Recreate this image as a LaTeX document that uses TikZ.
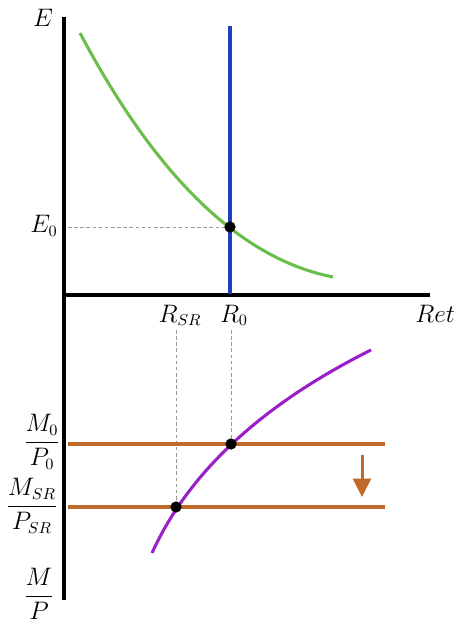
\documentclass[tikz,border=0pt]{standalone}
\usepackage{amsmath,amssymb}
\usepackage{xcolor}
\usepackage{tikz}
\usetikzlibrary{arrows.meta}

\definecolor{curvegreen}{RGB}{106,190,75}
\definecolor{lineblue}{RGB}{31,63,190}
\definecolor{curvepurple}{RGB}{155,31,200}
\definecolor{lineorange}{RGB}{192,106,42}

\begin{document}
\begin{tikzpicture}[>=Latex, x=0.02cm, y=-0.02cm,
    axis/.style={line width=1.85pt, black},
    graph/.style={line width=1.75pt},
    guide/.style={gray!80, line width=0.55pt, dash pattern=on 2pt off 1.5pt},
    lbl/.style={font=\fontsize{13.5}{16}\selectfont, inner sep=0pt}]
  \useasboundingbox (0,0) rectangle (457,624);
  % axes
  \coordinate (yTop) at (64,17);
  \coordinate (yBot) at (64,600);
  \coordinate (xLeft) at (64,295);
  \coordinate (xRight) at (430,295);
  \draw[axis] (yTop) -- (yBot);
  \draw[axis] (xLeft) -- (xRight);
  % upper panel
  \coordinate (g0) at (80,33);
  \coordinate (g1) at (333,277);
  \coordinate (b0) at (230,26);
  \coordinate (b1) at (230,294);
  \coordinate (eq0) at (230,227);
  \coordinate (e0) at (68,227);
  \draw[graph, curvegreen] (g0) .. controls (156.7,177.7) and (241,259) .. (g1);
  \draw[graph, lineblue] (b0) -- (b1);
  \draw[guide] (e0) -- (eq0);
  \fill (eq0) circle (3.2pt);
  % lower panel
  \coordinate (p0) at (152,553);
  \coordinate (p1) at (371,350);
  \coordinate (m0L) at (68,444);
  \coordinate (m0R) at (385,444);
  \coordinate (m1L) at (68,507);
  \coordinate (m1R) at (385,507);
  \coordinate (eqA) at (231,444);
  \coordinate (eqB) at (176,507);
  \coordinate (rA) at (231,330);
  \coordinate (rB) at (176,330);
  \coordinate (arT) at (362,455);
  \coordinate (arB) at (362,497);
  \draw[guide] (rA) -- (eqA);
  \draw[guide] (rB) -- (eqB);
  \draw[graph, lineorange] (m0L) -- (m0R);
  \draw[graph, lineorange] (m1L) -- (m1R);
  \draw[graph, curvepurple] (p0) .. controls (188.7,472.3) and (261.7,404.7) .. (p1);
  \draw[lineorange, line width=1.7pt, -{Triangle[width=0.36cm, length=0.37cm]}] (arT) -- (arB);
  \fill (eqA) circle (3.2pt);
  \fill (eqB) circle (3.2pt);
  % labels
  \node[lbl, anchor=base] (lblE) at (43,27) {$E$};
  \node[lbl, anchor=base] (lblEz) at (44,233) {$E_0$};
  \node[lbl, anchor=base] (lblRsr) at (180,322) {$R_{SR}$};
  \node[lbl, anchor=base] (lblRz) at (234,322) {$R_0$};
  \node[lbl, anchor=base] (lblRet) at (435,322) {$Ret$};
  \node[lbl] (lblMz) at (42,442) {$\dfrac{M_0}{P_0}$};
  \node[lbl] (lblMsr) at (32,506) {$\dfrac{M_{SR}}{P_{SR}}$};
  \node[lbl] (lblMP) at (39,594) {$\dfrac{M}{P}$};
\end{tikzpicture}
\end{document}
